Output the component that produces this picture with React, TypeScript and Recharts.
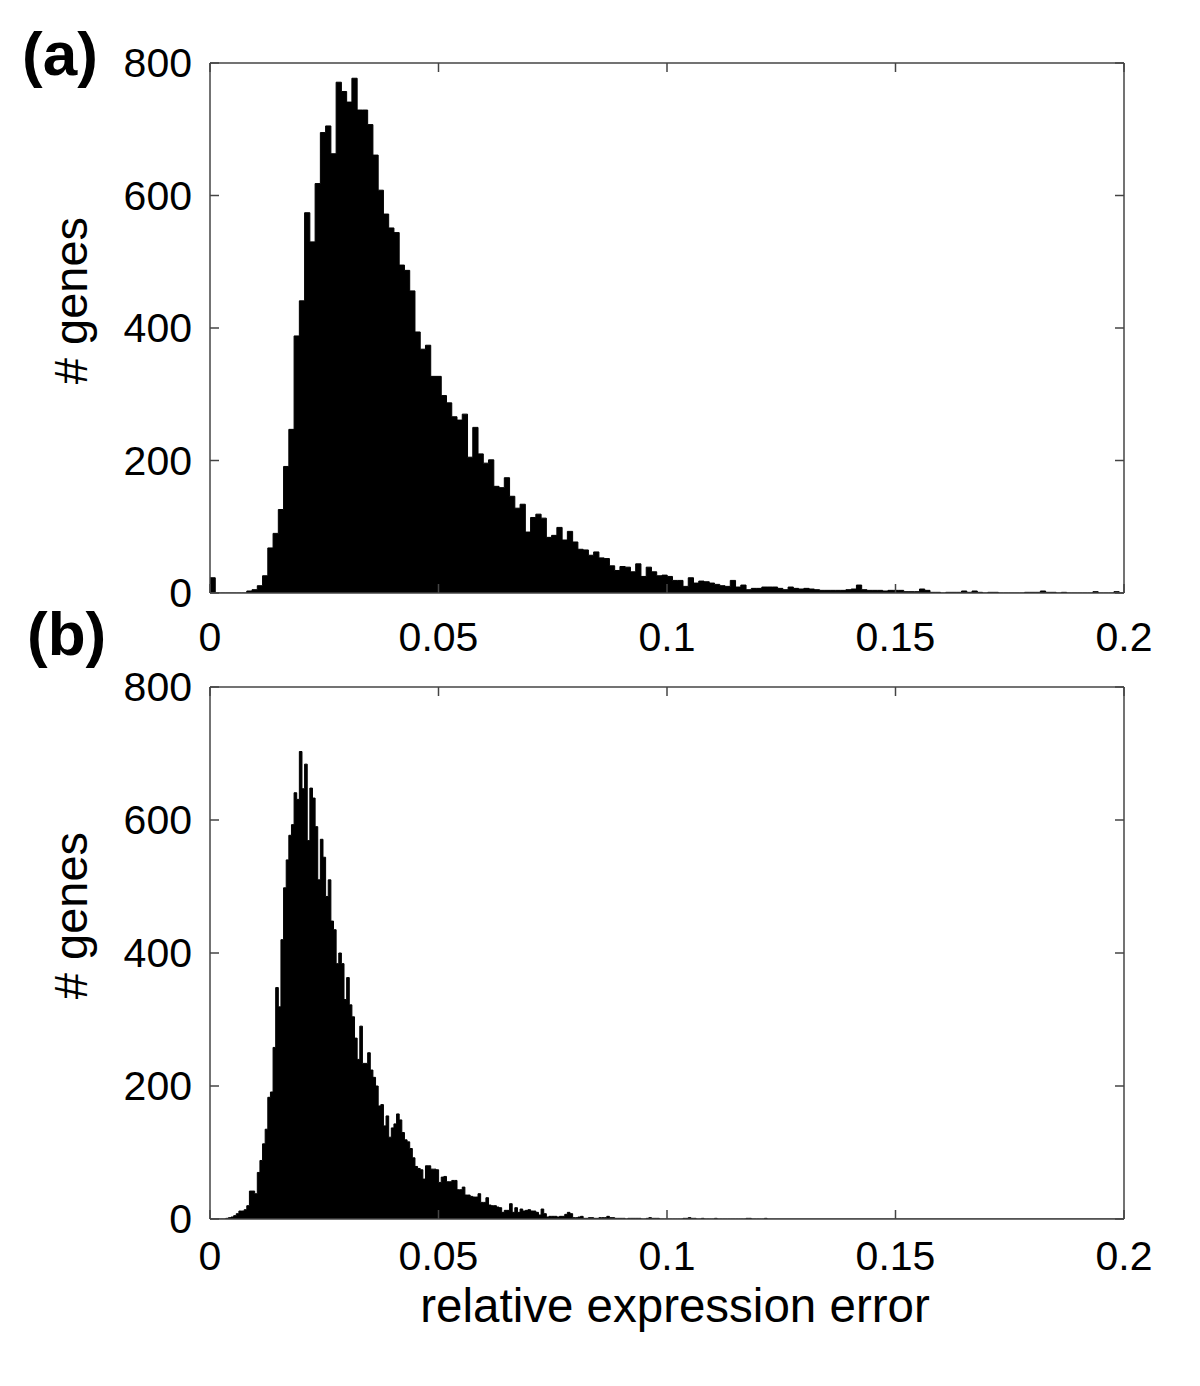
import React from 'react';
import { AreaChart, Area, XAxis, YAxis } from 'recharts';

// histogram bin widths (relative expression error units)
const BIN_A = 0.00115;
const BIN_B = 0.000575;
const X_MAX = 0.2;

// (a) counts per bin, starting at 0
const countsA = [
  23, 0, 0, 0, 0, 0, 0, 3, 5, 11, 26,
  68, 90, 126, 191, 247, 388, 441, 574, 530, 618,
  695, 705, 663, 771, 757, 741, 777, 729, 729, 707,
  661, 608, 572, 551, 544, 495, 487, 456, 394, 368,
  374, 327, 327, 298, 287, 266, 261, 270, 205, 250,
  210, 196, 201, 161, 159, 174, 146, 128, 134, 92,
  114, 119, 113, 84, 87, 99, 80, 93, 77, 66,
  65, 57, 62, 53, 52, 41, 34, 40, 39, 32,
  44, 25, 39, 32, 26, 27, 25, 19, 19, 10,
  23, 15, 18, 17, 15, 13, 11, 10, 19, 9,
  12, 5, 7, 7, 9, 9, 9, 7, 5, 9,
  7, 6, 7, 6, 5, 4, 4, 4, 4, 4,
  5, 6, 12, 5, 4, 4, 4, 3, 4, 4,
  4, 2, 2, 2, 6, 4, 1, 1, 0, 1,
  1, 1, 3, 1, 3, 1, 0, 1, 1, 0,
  0, 0, 0, 0, 1, 1, 1, 3, 1, 1,
  0, 1, 0, 0, 0, 0, 0, 2, 0, 0,
  0, 2, 0,
];

// (b) counts per bin, starting at 0
const countsB = [
  0, 0, 0, 0, 0, 0, 1, 2, 3, 5, 8,
  12, 12, 14, 20, 42, 42, 38, 70, 88, 113,
  135, 183, 191, 258, 348, 319, 420, 498, 540, 577,
  593, 641, 631, 703, 647, 684, 569, 648, 633, 590,
  510, 571, 544, 485, 510, 448, 435, 384, 400, 384,
  330, 363, 322, 304, 272, 240, 290, 234, 234, 250,
  224, 213, 200, 170, 172, 140, 155, 123, 137, 143,
  158, 149, 130, 119, 116, 106, 92, 79, 76, 74,
  60, 80, 80, 75, 75, 74, 55, 63, 64, 56,
  56, 58, 58, 44, 44, 48, 36, 36, 34, 33,
  33, 38, 25, 25, 32, 21, 20, 20, 18, 17,
  10, 13, 13, 23, 10, 17, 10, 15, 12, 13,
  14, 12, 12, 10, 6, 15, 8, 3, 4, 4,
  4, 3, 4, 4, 7, 10, 8, 2, 2, 3,
  4, 1, 1, 2, 2, 1, 1, 2, 2, 2,
  4, 2, 2, 1, 1, 1, 1, 0, 1, 1,
  1, 1, 1, 0, 0, 1, 2, 1, 1, 1,
  0, 0, 0, 0, 0, 0, 0, 0, 0, 1,
  1, 2, 1, 1, 0, 0, 1, 0, 0, 0,
  0, 1, 0, 0, 0, 0, 0, 0, 0, 0,
  0, 0, 0, 1, 1, 0, 0, 0, 0, 0,
  1, 0,
];

const xTicks = [0, 0.05, 0.1, 0.15, 0.2];
const xTickLabels = ['0', '0.05', '0.1', '0.15', '0.2'];
const yTicks = [0, 200, 400, 600, 800];
const yTickLabels = ['0', '200', '400', '600', '800'];

const FONT = '"Liberation Sans", Arial, Helvetica, sans-serif';
const AXIS = '#444';
const TICK_LEN = 9;

// axis band sizes; the chart margins are reduced by these
const BOTTOM_H = 50;
const TOP_H = 10;
const LEFT_W = 60;
const RIGHT_W = 10;

function toSteps(counts: number[], bin: number) {
  const rows = counts.map((n, i) => ({ x: +(i * bin).toFixed(6), n }));
  rows.push({ x: X_MAX, n: 0 });
  return rows;
}

function BottomTick(props: any) {
  const { x, y, payload, gap } = props;
  const i = xTicks.indexOf(payload.value);
  return (
    <g>
      <line x1={x} y1={y} x2={x} y2={y - TICK_LEN} stroke={AXIS} strokeWidth={1.5} />
      <text x={x} y={y + gap} textAnchor="middle" dominantBaseline="central" fontSize={41} fontFamily={FONT} fill="#000">
        {xTickLabels[i]}
      </text>
    </g>
  );
}

function TopTick(props: any) {
  const { x, y } = props;
  return <line x1={x} y1={y} x2={x} y2={y + TICK_LEN} stroke={AXIS} strokeWidth={1.5} />;
}

function LeftTick(props: any) {
  const { x, y, payload } = props;
  const i = yTicks.indexOf(payload.value);
  return (
    <g>
      <line x1={x} y1={y} x2={x + TICK_LEN} y2={y} stroke={AXIS} strokeWidth={1.5} />
      <text x={x - 18} y={y} textAnchor="end" dominantBaseline="central" fontSize={41} fontFamily={FONT} fill="#000">
        {yTickLabels[i]}
      </text>
    </g>
  );
}

function RightTick(props: any) {
  const { x, y } = props;
  return <line x1={x} y1={y} x2={x - TICK_LEN} y2={y} stroke={AXIS} strokeWidth={1.5} />;
}

type Box = { top: number; right: number; bottom: number; left: number };

type PanelProps = {
  counts: number[];
  bin: number;
  top: number;
  height: number;
  plot: Box; // distance of the plot box from each edge of the chart
  labelGap: number;
};

function Panel({ counts, bin, top, height, plot, labelGap }: PanelProps) {
  const data = toSteps(counts, bin);
  const axisLine = { stroke: AXIS, strokeWidth: 1.5 };
  const margin = {
    top: plot.top - TOP_H,
    right: plot.right - RIGHT_W,
    bottom: plot.bottom - BOTTOM_H,
    left: plot.left - LEFT_W,
  };
  return (
    <div style={{ position: 'absolute', left: 0, top }}>
      <AreaChart width={1200} height={height} data={data} margin={margin}>
        <Area
          type="stepAfter"
          dataKey="n"
          stroke="#000"
          strokeWidth={1}
          fill="#000"
          fillOpacity={1}
          dot={false}
          activeDot={false}
          isAnimationActive={false}
        />
        <XAxis
          dataKey="x"
          type="number"
          domain={[0, X_MAX]}
          ticks={xTicks}
          allowDataOverflow
          height={BOTTOM_H}
          tickSize={0}
          tickMargin={0}
          tickLine={false}
          axisLine={axisLine}
          interval={0}
          tick={(p: any) => <BottomTick {...p} gap={labelGap} />}
        />
        <XAxis
          xAxisId="top"
          orientation="top"
          dataKey="x"
          type="number"
          domain={[0, X_MAX]}
          ticks={xTicks}
          allowDataOverflow
          height={TOP_H}
          tickSize={0}
          tickMargin={0}
          tickLine={false}
          axisLine={axisLine}
          interval={0}
          tick={(p: any) => <TopTick {...p} />}
        />
        <YAxis
          type="number"
          domain={[0, 800]}
          ticks={yTicks}
          allowDataOverflow
          width={LEFT_W}
          tickSize={0}
          tickMargin={0}
          tickLine={false}
          axisLine={axisLine}
          interval={0}
          tick={(p: any) => <LeftTick {...p} />}
        />
        <YAxis
          yAxisId="right"
          orientation="right"
          type="number"
          domain={[0, 800]}
          ticks={yTicks}
          allowDataOverflow
          width={RIGHT_W}
          tickSize={0}
          tickMargin={0}
          tickLine={false}
          axisLine={axisLine}
          interval={0}
          tick={(p: any) => <RightTick {...p} />}
        />
      </AreaChart>
    </div>
  );
}

const textBase: React.CSSProperties = {
  position: 'absolute',
  fontFamily: FONT,
  color: '#000',
  lineHeight: 1,
  whiteSpace: 'nowrap',
};

function YTitle({ cy }: { cy: number }) {
  return (
    <div
      style={{
        ...textBase,
        fontSize: 47,
        width: 300,
        left: 70 - 150,
        top: cy - 23,
        textAlign: 'center',
        transform: 'rotate(-90deg)',
      }}
    >
      # genes
    </div>
  );
}

export default function App() {
  return (
    <div style={{ position: 'absolute', left: 0, top: 0, width: 1200, height: 1386, background: '#fff' }}>
      <Panel
        counts={countsA}
        bin={BIN_A}
        top={0}
        height={680}
        plot={{ top: 63, right: 76, bottom: 87, left: 210 }}
        labelGap={44}
      />
      <Panel
        counts={countsB}
        bin={BIN_B}
        top={640}
        height={746}
        plot={{ top: 47, right: 76, bottom: 167, left: 210 }}
        labelGap={37}
      />
      <div style={{ ...textBase, fontSize: 62, fontWeight: 'bold', left: 22, top: 23 }}>(a)</div>
      <div style={{ ...textBase, fontSize: 62, fontWeight: 'bold', left: 27, top: 603 }}>(b)</div>
      <YTitle cy={300} />
      <YTitle cy={915} />
      <div style={{ ...textBase, fontSize: 47.5, width: 700, left: 675 - 350, top: 1282, textAlign: 'center' }}>
        relative expression error
      </div>
    </div>
  );
}
